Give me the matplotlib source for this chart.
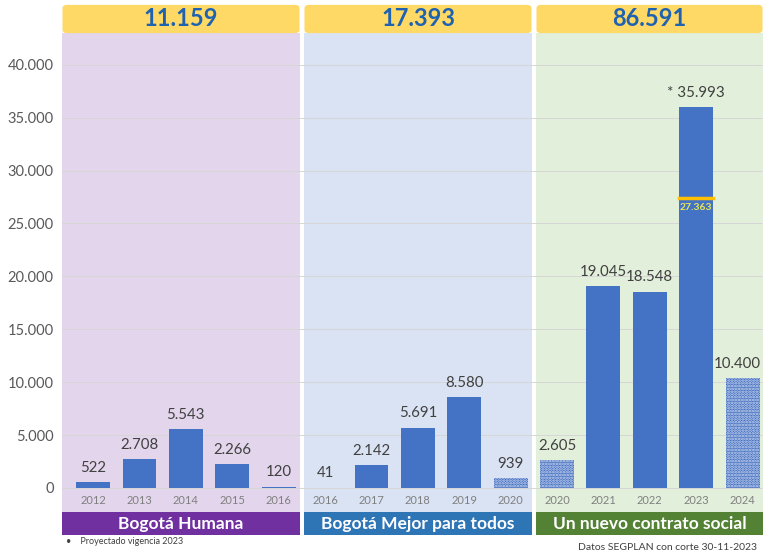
import matplotlib.pyplot as plt
from matplotlib.patches import FancyBboxPatch, Rectangle

plt.rcParams['font.family'] = ['Lato', 'DejaVu Sans']
plt.rcParams['hatch.linewidth'] = 1.3

years = ['2012', '2013', '2014', '2015', '2016',
         '2016', '2017', '2018', '2019', '2020',
         '2020', '2021', '2022', '2023', '2024']
values = [522, 2708, 5543, 2266, 120,
          41, 2142, 5691, 8580, 939,
          2605, 19045, 18548, 35993, 10400]
projected = [False, False, False, False, False,
             False, False, False, False, True,
             True, False, False, False, True]
totals = ['11.159', '17.393', '86.591']
plans = ['Bogotá Humana', 'Bogotá Mejor para todos', 'Un nuevo contrato social']
marker_2023 = 27363

bg_colors = ['#E3D6EC', '#DAE3F3', '#E2EFDA']
band_colors = ['#7030A0', '#2E75B6', '#548235']
bar_color = '#4472C4'

W, H = 763, 553
fig = plt.figure(figsize=(W / 100, H / 100), dpi=100)
left_px, right_px, top_px, bot_px = 62, 763, 33, 512
ax = fig.add_axes([left_px / W, 1 - bot_px / H, (right_px - left_px) / W, (bot_px - top_px) / H])

ymin, ymax = -2270, 43000
xmin, xmax = -0.67, 14.44
ax.set_xlim(xmin, xmax)
ax.set_ylim(ymin, ymax)

# panel backgrounds
bounds = [(xmin, 4.46), (4.54, 9.46), (9.54, xmax)]
for (a, b), c in zip(bounds, bg_colors):
    ax.axvspan(a, b, color=c, zorder=0, lw=0)

for v in range(0, 40001, 5000):
    ax.axhline(v, color='#D6D6D6', lw=0.7, zorder=1)

for i, (v, p) in enumerate(zip(values, projected)):
    if p:
        ax.bar(i, v, width=0.73, color='#3F6CC0', hatch='......',
               edgecolor='#CFDAF0', lw=0, zorder=2)
    else:
        ax.bar(i, v, width=0.73, color=bar_color, lw=0, zorder=2)
    label = f'{v:,}'.replace(',', '.')
    if i == 13:
        label = '* ' + label
    xl = i - 0.12 if i == len(values) - 1 else i
    ax.text(xl, v + 700, label, ha='center', va='bottom', fontsize=10.8, color='#404040', zorder=3)
    ax.text(i, -1150, years[i], ha='center', va='center', fontsize=8, color='#7F7F7F', zorder=3)

# 2023 marker
ax.plot([13 - 0.365, 13 + 0.365], [marker_2023, marker_2023], color='#FFC000', lw=2.5, zorder=3)
ax.text(13, marker_2023 - 450, f'{marker_2023:,}'.replace(',', '.'), ha='center', va='top',
        fontsize=7.5, color='#E6E65A', fontweight='bold', zorder=3)

ax.set_xticks([])
ax.set_yticks(range(0, 40001, 5000))
ax.set_yticklabels([f'{v:,}'.replace(',', '.') for v in range(0, 40001, 5000)],
                   fontsize=10.5, color='#595959')
ax.tick_params(axis='y', length=0, pad=6)
for s in ax.spines.values():
    s.set_visible(False)

# headers and bottom bands (figure pixel coords)
panels_px = [(62, 300), (304, 532), (536, 763)]
for (a, b), t, pl, bc in zip(panels_px, totals, plans, band_colors):
    fig.patches.append(FancyBboxPatch(((a + 2) / W, 1 - 32 / H), (b - a - 4) / W, 26 / H,
                                      boxstyle='round,pad=0.002,rounding_size=0.006',
                                      transform=fig.transFigure, facecolor='#FFD966',
                                      edgecolor='none'))
    fig.text((a + b) / 2 / W, 1 - 19 / H, t, ha='center', va='center', fontsize=17,
             fontweight='bold', color='#1F62B0')
    fig.patches.append(Rectangle((a / W, 1 - 535 / H), (b - a) / W, 23 / H,
                                 transform=fig.transFigure, facecolor=bc, edgecolor='none'))
    fig.text((a + b) / 2 / W, 1 - 524 / H, pl, ha='center', va='center', fontsize=12.5,
             fontweight='bold', color='white')

fig.text(66 / W, 1 - 541 / H, '•    Proyectado vigencia 2023', ha='left', va='center',
         fontsize=6.5, color='#404040')
fig.text(757 / W, 1 - 547 / H, 'Datos SEGPLAN con corte 30-11-2023', ha='right', va='center',
         fontsize=7.5, color='#404040')

fig.savefig('out.png', dpi=100)
